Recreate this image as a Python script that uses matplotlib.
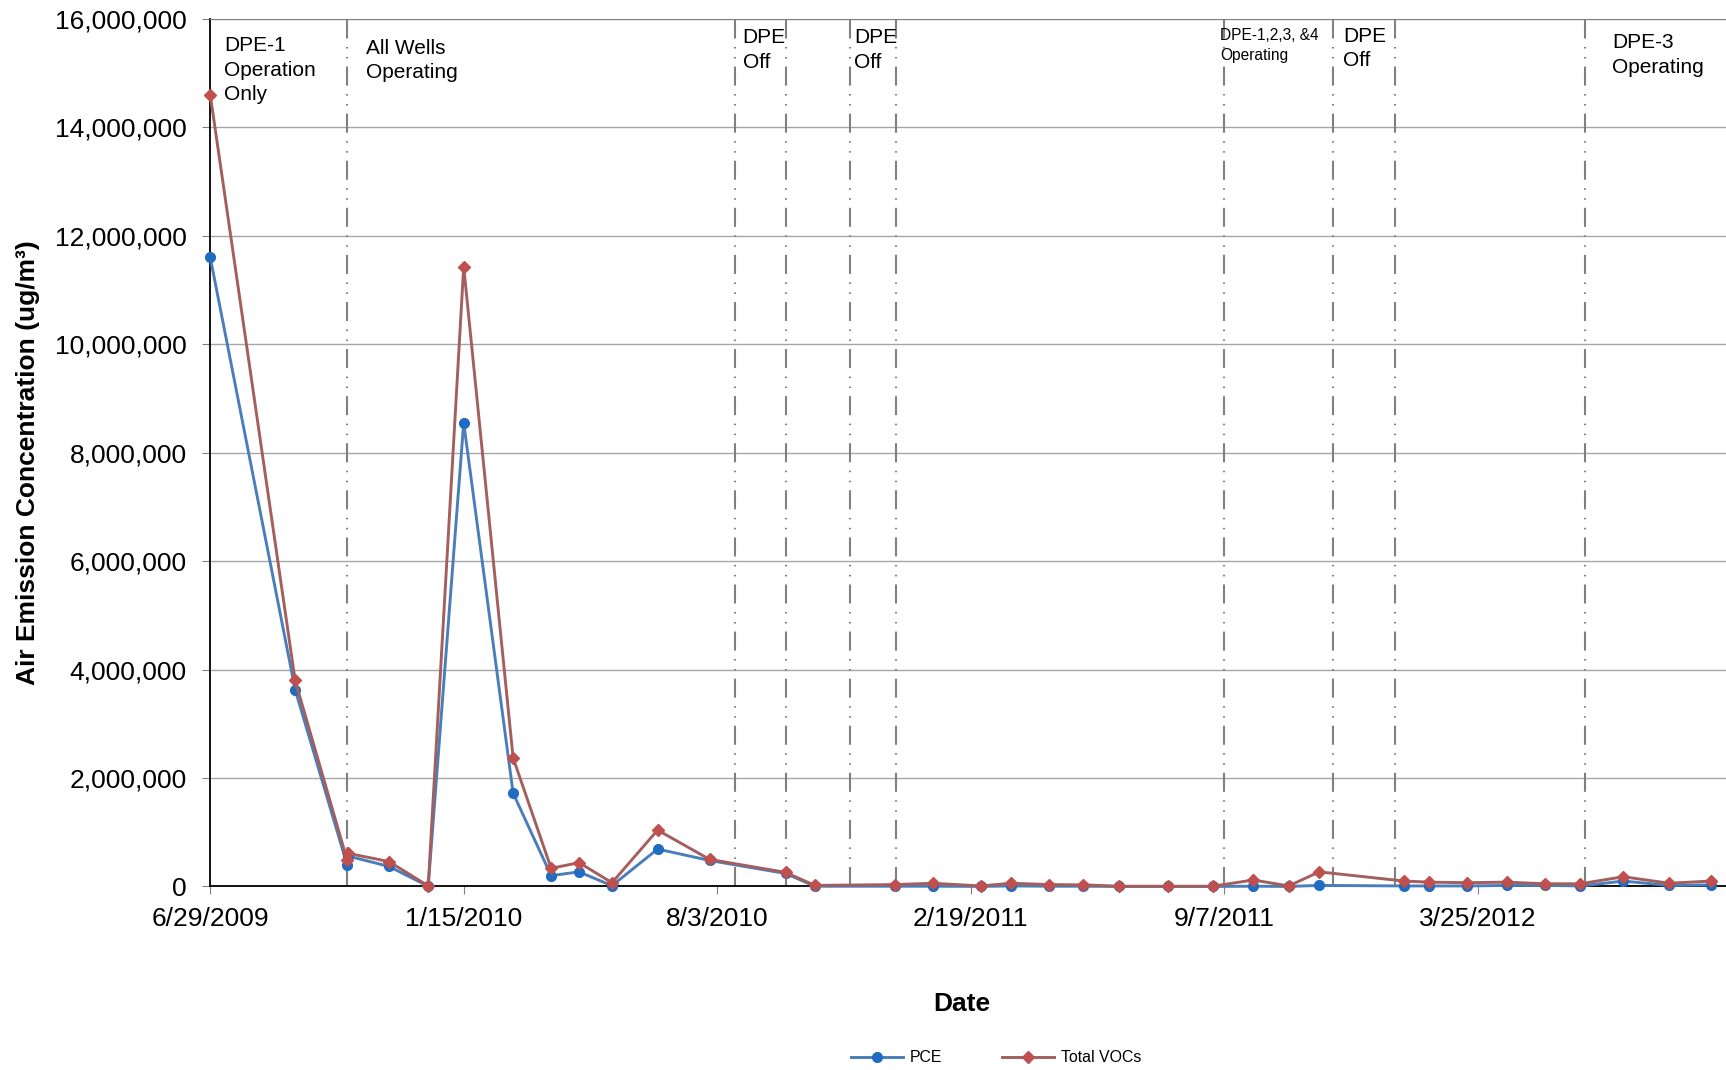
import pandas as pd
import matplotlib
matplotlib.use('Agg')
import matplotlib.pyplot as plt
import matplotlib.transforms as mtransforms
from matplotlib.ticker import FuncFormatter

plt.rcParams['font.family'] = ['Liberation Sans', 'DejaVu Sans']
plt.rcParams['lines.scale_dashes'] = False

# sampling events (ug/m3)
sample_dates = ['2009-06-29', '2009-09-04', '2009-10-15', '2009-10-16', '2009-11-17',
                '2009-12-18', '2010-01-15', '2010-02-23', '2010-03-25', '2010-04-16',
                '2010-05-12', '2010-06-17', '2010-07-28', '2010-09-26', '2010-10-19',
                '2010-12-21', '2011-01-20', '2011-02-27', '2011-03-23', '2011-04-22',
                '2011-05-19', '2011-06-16', '2011-07-25', '2011-08-29', '2011-09-30',
                '2011-10-28', '2011-11-21', '2012-01-27', '2012-02-16', '2012-03-17',
                '2012-04-17', '2012-05-17', '2012-06-14', '2012-07-18', '2012-08-23',
                '2012-09-25']
pce = [11600000, 3630000, 400000, 560000, 370000,
       5000, 8550000, 1720000, 200000, 270000,
       15000, 690000, 480000, 240000, 5000,
       5000, 5000, 2000, 10000, 5000,
       5000, 1000, 1000, 1000, 5000,
       1000, 20000, 10000, 10000, 10000,
       20000, 20000, 10000, 100000, 20000,
       30000]
total_vocs = [14600000, 3800000, 490000, 610000, 460000,
              10000, 11430000, 2370000, 335000, 440000,
              70000, 1040000, 500000, 260000, 20000,
              35000, 60000, 10000, 60000, 35000,
              30000, 5000, 5000, 5000, 120000,
              10000, 270000, 100000, 80000, 70000,
              80000, 50000, 50000, 180000, 60000,
              100000]

# operational changes
event_dates = ['2009-10-15', '2010-08-17', '2010-09-26', '2010-11-16', '2010-12-22',
               '2011-09-07', '2011-12-02', '2012-01-20', '2012-06-18']
notes = ['DPE-1\nOperation\nOnly', 'All Wells\nOperating', 'DPE\nOff', 'DPE\nOff',
         'DPE-1,2,3, &4\nOperating', 'DPE\nOff', 'DPE-3\nOperating']
note_dates = ['2009-07-10', '2009-10-30', '2010-08-23', '2010-11-19',
              '2011-09-04', '2011-12-10', '2012-07-09']

tick_dates = ['2009-06-29', '2010-01-15', '2010-08-03', '2011-02-19', '2011-09-07', '2012-03-25']

# layout
note_tops = [0.980, 0.977, 0.989, 0.989, 0.989, 0.991, 0.983]
note_sizes = [15, 15, 15, 15, 11.2, 15, 15]

dates = pd.to_datetime(sample_dates)

fig = plt.figure(figsize=(17.26, 10.70), dpi=100)
ax = fig.add_axes([0.1218, 0.1715, 0.8782, 0.8110])

for d in pd.to_datetime(event_dates):
    ax.axvline(d, color='#808080', lw=1.5,
               linestyle=(0, (13.7, 5.8, 1.1, 6.1, 1.1, 6.1)), zorder=1)

ax.plot(dates, pce, color='#4A7EBB', lw=2.1, marker='o', markersize=7,
        markerfacecolor='#1F6CC2', markeredgecolor='#1F6CC2', label='PCE',
        clip_on=False, zorder=3)
ax.plot(dates, total_vocs, color='#A35F5D', lw=2.1, marker='D', markersize=6.5,
        markerfacecolor='#C0504D', markeredgecolor='#C0504D', label='Total VOCs',
        clip_on=False, zorder=4)

trans = mtransforms.blended_transform_factory(ax.transData, ax.transAxes)
for txt, nd, top, fs in zip(notes, pd.to_datetime(note_dates), note_tops, note_sizes):
    ax.text(nd, top, txt, transform=trans, ha='left', va='top', fontsize=fs,
            linespacing=1.38)

ax.set_ylim(0, 16000000)
ax.set_yticks(range(0, 16000001, 2000000))
ax.yaxis.set_major_formatter(FuncFormatter(lambda v, p: f'{v:,.0f}'))
ax.set_xlim(pd.Timestamp('2009-06-29'), pd.Timestamp('2012-10-07'))
ticks = pd.to_datetime(tick_dates)
ax.set_xticks(ticks)
ax.set_xticklabels([f'{t.month}/{t.day}/{t.year}' for t in ticks])

ax.yaxis.grid(True, color='#A6A6A6', lw=1)
ax.set_axisbelow(True)
ax.spines['right'].set_visible(False)
ax.spines['top'].set_color('#808080')
ax.spines['left'].set_linewidth(1.3)
ax.spines['bottom'].set_linewidth(1.3)
ax.tick_params(axis='both', labelsize=19, length=6, color='#808080')
ax.tick_params(axis='y', pad=11)
ax.tick_params(axis='x', pad=9)

ax.set_ylabel('Air Emission Concentration (ug/m³)', fontsize=19, fontweight='bold')
ax.yaxis.set_label_coords(-0.112, 0.489)
ax.set_xlabel('Date', fontsize=19, fontweight='bold')
ax.xaxis.set_label_coords(0.496, -0.1216)

fig.legend(loc='center', bbox_to_anchor=(996 / 1726, 1 - 1058 / 1070), ncol=2,
           frameon=False, fontsize=11.4, handlelength=3.3, handletextpad=0.4,
           columnspacing=3.8)

plt.savefig('out.png', dpi=100)
